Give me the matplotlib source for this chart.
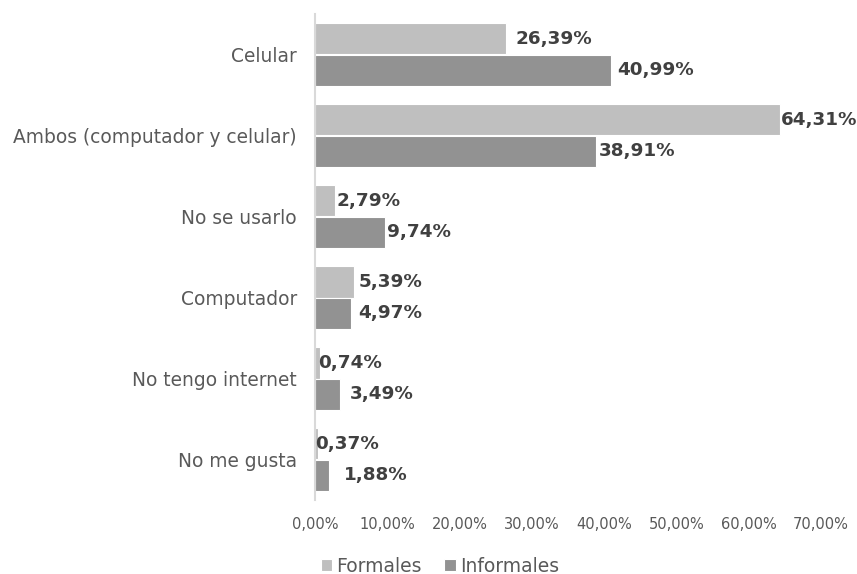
import matplotlib
matplotlib.use("Agg")
import matplotlib.pyplot as plt
import numpy as np

categories = ["Celular", "Ambos (computador y celular)", "No se usarlo",
              "Computador", "No tengo internet", "No me gusta"]
formales = [26.39, 64.31, 2.79, 5.39, 0.74, 0.37]
informales = [40.99, 38.91, 9.74, 4.97, 3.49, 1.88]
xticks = [0, 10, 20, 30, 40, 50, 60, 70]
series_names = ["Formales", "Informales"]

# label nudges (points) so small-value labels don't collide with the axis
off_f = [7, 1, 1, 3, -1.5, -1.5]
off_i = [4.5, 1.5, 1.5, 5, 7, 11]

plt.rcParams["font.family"] = ["DejaVu Sans"]

fig = plt.figure(figsize=(8.57, 5.74), dpi=100)
ax = fig.add_axes([315 / 857, 1 - 500 / 574, (821 - 315) / 857, (500 - 14) / 574])

c_f = "#bfbfbf"
c_i = "#929292"
h = 0.39
y = np.arange(len(categories))

bf = ax.barh(y - h / 2, formales, height=h, color=c_f, edgecolor="white",
             linewidth=0.8, label=series_names[0])
bi = ax.barh(y + h / 2, informales, height=h, color=c_i, edgecolor="white",
             linewidth=0.8, label=series_names[1])

def fmt(v):
    return f"{v:.2f}".replace(".", ",") + "%"

for yy, v, o in zip(y - h / 2, formales, off_f):
    ax.annotate(fmt(v), (v, yy), xytext=(o, 0), textcoords="offset points",
                ha="left", va="center", fontsize=13.2, fontweight="bold",
                color="#404040")
for yy, v, o in zip(y + h / 2, informales, off_i):
    ax.annotate(fmt(v), (v, yy), xytext=(o, 0), textcoords="offset points",
                ha="left", va="center", fontsize=13.2, fontweight="bold",
                color="#404040")

ax.set_xlim(0, 70)
ax.set_ylim(len(categories) - 0.5, -0.5)
ax.set_yticks(y)
ax.set_yticklabels(categories, fontsize=13.4, color="#595959")
ax.set_xticks(xticks)
ax.set_xticklabels([f"{t},00%" for t in xticks], fontsize=10.5, color="#595959")
ax.tick_params(axis="y", length=0, pad=13)
ax.tick_params(axis="x", length=0, pad=12)

for s in ["top", "right", "bottom"]:
    ax.spines[s].set_visible(False)
ax.spines["left"].set_color("#d9d9d9")
ax.spines["left"].set_linewidth(1.5)

fig.legend(handles=[bf, bi], labels=series_names, loc="center",
           bbox_to_anchor=(440 / 857, 1 - 566 / 574), ncol=2, frameon=False,
           fontsize=13.5, handlelength=0.6, handleheight=0.6,
           handletextpad=0.25, columnspacing=1.2, labelcolor="#595959")

fig.savefig("out.png", dpi=100)
